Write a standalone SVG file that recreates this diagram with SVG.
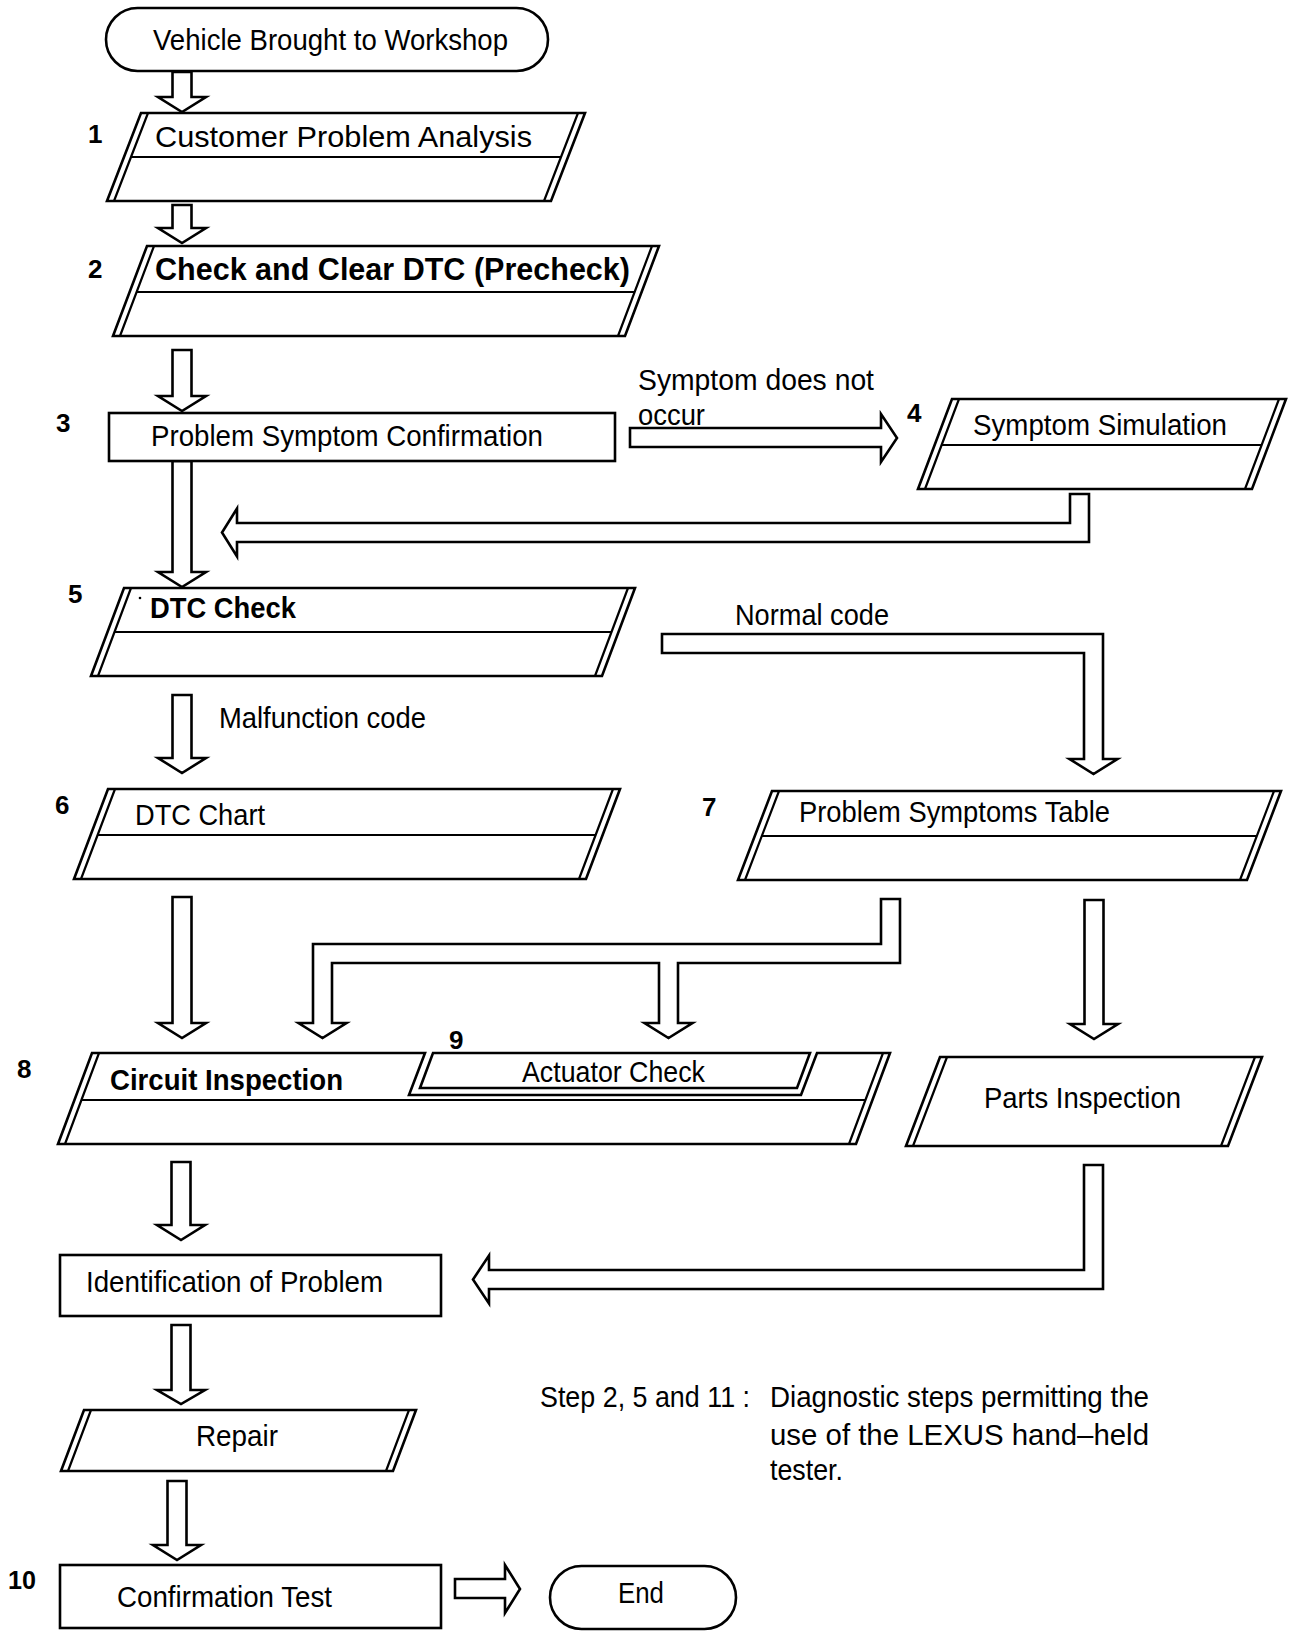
<svg xmlns="http://www.w3.org/2000/svg" width="1312" height="1636" viewBox="0 0 1312 1636">
<style>
.sh{fill:#fff;stroke:#000;stroke-width:2.6;stroke-linejoin:miter}
.ln{fill:none;stroke:#000;stroke-width:2.2}
.ar{fill:#fff;stroke:#000;stroke-width:2.6;stroke-linejoin:miter}
.t{font-family:"Liberation Sans",Arial,sans-serif;font-size:29px;fill:#000}
.b{font-family:"Liberation Sans",Arial,sans-serif;font-size:29px;font-weight:bold;fill:#000}
.n{font-family:"Liberation Sans",Arial,sans-serif;font-size:26px;font-weight:bold;fill:#000}
</style>
<rect x="0" y="0" width="1312" height="1636" fill="#fff"/>

<g id="connectors">
<path class="ar" d="M172.5,72 L191.5,72 L191.5,97 L206,97 L182,112 L158,97 L172.5,97 Z"/>
<path class="ar" d="M172.5,205 L191.5,205 L191.5,228 L206,228 L182,243 L158,228 L172.5,228 Z"/>
<path class="ar" d="M172.5,350 L191.5,350 L191.5,396 L206,396 L182,411 L158,396 L172.5,396 Z"/>
<path class="ar" d="M630,428 L881,428 L881,414 L897,438 L881,462 L881,447 L630,447 Z"/>
<path class="ar" d="M1070,494 L1089,494 L1089,542 L237,542 L237,556.5 L222,532.5 L237,508.5 L237,523 L1070,523 Z"/>
<path class="ar" d="M172.5,461 L191.5,461 L191.5,572 L206,572 L182,587 L158,572 L172.5,572 Z"/>
<path class="ar" d="M662,634 L1103,634 L1103,759 L1117.5,759 L1093.5,774 L1069.5,759 L1084,759 L1084,653 L662,653 Z"/>
<path class="ar" d="M172.5,695 L191.5,695 L191.5,758 L206,758 L182,773 L158,758 L172.5,758 Z"/>
<path class="ar" d="M172.5,897 L191.5,897 L191.5,1023 L206,1023 L182,1038 L158,1023 L172.5,1023 Z"/>
<path class="ar" d="M881,899 L900,899 L900,963 L678,963 L678,1023 L692.5,1023 L668.5,1038 L644.5,1023 L659,1023 L659,963 L332,963 L332,1023 L346.5,1023 L322.5,1038 L298.5,1023 L313,1023 L313,944 L881,944 Z"/>
<path class="ar" d="M1084.5,900 L1103.5,900 L1103.5,1024 L1118,1024 L1094,1039 L1070,1024 L1084.5,1024 Z"/>
<path class="ar" d="M171.5,1162 L190.5,1162 L190.5,1225 L205,1225 L181,1240 L157,1225 L171.5,1225 Z"/>
<path class="ar" d="M1084,1165 L1103,1165 L1103,1289 L489,1289 L489,1303.5 L473,1279.5 L489,1255.5 L489,1270 L1084,1270 Z"/>
<path class="ar" d="M171.5,1325 L190.5,1325 L190.5,1390 L205,1390 L181,1404 L157,1390 L171.5,1390 Z"/>
<path class="ar" d="M167.5,1481 L186.5,1481 L186.5,1545 L201,1545 L177,1560 L153,1545 L167.5,1545 Z"/>
<path class="ar" d="M455,1579 L505,1579 L505,1565 L520,1589 L505,1613 L505,1598 L455,1598 Z"/>
<text class="t" x="638" y="390" textLength="236" lengthAdjust="spacingAndGlyphs">Symptom does not</text>
<text class="t" x="638" y="425" textLength="67" lengthAdjust="spacingAndGlyphs">occur</text>
<text class="t" x="735" y="625" textLength="154" lengthAdjust="spacingAndGlyphs">Normal code</text>
<text class="t" x="219" y="728" textLength="207" lengthAdjust="spacingAndGlyphs">Malfunction code</text>
</g>

<g id="start">
<rect class="sh" x="106" y="8" width="442" height="63" rx="31.5"/>
<text class="t" x="153" y="50" textLength="355" lengthAdjust="spacingAndGlyphs">Vehicle Brought to Workshop</text>
</g>

<g id="n1">
<polygon class="sh" points="141,113 585,113 551,201 107,201"/>
<path class="ln" d="M148,113 L114,201 M578,113 L544,201 M131,157 L561,157"/>
<text class="n" x="88" y="143">1</text>
<text class="t" x="155" y="147" textLength="377" lengthAdjust="spacingAndGlyphs">Customer Problem Analysis</text>
</g>

<g id="n2">
<polygon class="sh" points="147,246 659,246 625,336 113,336"/>
<path class="ln" d="M154,246 L120,336 M652,246 L618,336 M137,292 L635,292"/>
<text class="n" x="88" y="278">2</text>
<text class="b" x="155" y="280" style="font-size:31px" textLength="475" lengthAdjust="spacingAndGlyphs">Check and Clear DTC (Precheck)</text>
</g>

<g id="n3">
<rect class="sh" x="109" y="413" width="506" height="48"/>
<text class="n" x="56" y="432">3</text>
<text class="t" x="151" y="446" textLength="392" lengthAdjust="spacingAndGlyphs">Problem Symptom Confirmation</text>
</g>

<g id="n4">
<polygon class="sh" points="952,399 1286,399 1252,489 918,489"/>
<path class="ln" d="M959,399 L925,489 M1279,399 L1245,489 M942,445 L1262,445"/>
<text class="n" x="907" y="422">4</text>
<text class="t" x="973" y="435" textLength="254" lengthAdjust="spacingAndGlyphs">Symptom Simulation</text>
</g>

<g id="n5">
<polygon class="sh" points="124,588 635,588 602,676 91,676"/>
<path class="ln" d="M131,588 L98,676 M628,588 L595,676 M114.5,632 L611.5,632"/>
<circle cx="140" cy="598" r="1.3" fill="#000"/>
<text class="n" x="68" y="603">5</text>
<text class="b" x="150" y="618" textLength="146" lengthAdjust="spacingAndGlyphs">DTC Check</text>
</g>

<g id="n6">
<polygon class="sh" points="108,789 620,789 586,879 74,879"/>
<path class="ln" d="M115,789 L81,879 M613,789 L579,879 M97.6,835 L595.6,835"/>
<text class="n" x="55" y="814">6</text>
<text class="t" x="135" y="825" textLength="130" lengthAdjust="spacingAndGlyphs">DTC Chart</text>
</g>

<g id="n7">
<polygon class="sh" points="772,791 1281,791 1247,880 738,880"/>
<path class="ln" d="M779,791 L745,880 M1274,791 L1240,880 M762,836 L1257,836"/>
<text class="n" x="702" y="816">7</text>
<text class="t" x="799" y="822" textLength="311" lengthAdjust="spacingAndGlyphs">Problem Symptoms Table</text>
</g>

<g id="n8">
<path class="sh" d="M425,1053 L92,1053 L58,1144 L856,1144 L890,1053 L817,1053 L801,1095 L409,1095 Z"/>
<path class="ln" d="M99,1053 L65,1144 M883,1053 L849,1144 M81,1100 L865,1100"/>
<text class="n" x="17" y="1078">8</text>
<text class="b" x="110" y="1090" textLength="233" lengthAdjust="spacingAndGlyphs">Circuit Inspection</text>
</g>

<g id="n9">
<polygon class="sh" points="433,1053 810,1053 797,1088 420,1088"/>
<text class="n" x="449" y="1049">9</text>
<text class="t" x="522" y="1082" textLength="183" lengthAdjust="spacingAndGlyphs">Actuator Check</text>
</g>

<g id="parts">
<polygon class="sh" points="940,1057 1262,1057 1228,1146 906,1146"/>
<path class="ln" d="M947,1057 L913,1146 M1255,1057 L1221,1146"/>
<text class="t" x="984" y="1108" textLength="197" lengthAdjust="spacingAndGlyphs">Parts Inspection</text>
</g>

<g id="ident">
<rect class="sh" x="60" y="1255" width="381" height="61"/>
<text class="t" x="86" y="1292" textLength="297" lengthAdjust="spacingAndGlyphs">Identification of Problem</text>
</g>

<g id="repair">
<polygon class="sh" points="84,1410 416,1410 393,1471 61,1471"/>
<path class="ln" d="M91,1410 L68,1471 M409,1410 L386,1471"/>
<text class="t" x="196" y="1446" textLength="82" lengthAdjust="spacingAndGlyphs">Repair</text>
</g>

<g id="n10">
<rect class="sh" x="60" y="1565" width="381" height="63"/>
<text class="n" x="8" y="1589" textLength="28" lengthAdjust="spacingAndGlyphs">10</text>
<text class="t" x="117" y="1607" textLength="215" lengthAdjust="spacingAndGlyphs">Confirmation Test</text>
</g>

<g id="end">
<rect class="sh" x="550" y="1566" width="186" height="63" rx="31.5"/>
<text class="t" x="618" y="1603" textLength="46" lengthAdjust="spacingAndGlyphs">End</text>
</g>

<g id="note">
<text class="t" x="540" y="1407" textLength="210" lengthAdjust="spacingAndGlyphs">Step 2, 5 and 11 :</text>
<text class="t" x="770" y="1407" textLength="379" lengthAdjust="spacingAndGlyphs">Diagnostic steps permitting the</text>
<text class="t" x="770" y="1445" textLength="379" lengthAdjust="spacingAndGlyphs">use of the LEXUS hand–held</text>
<text class="t" x="770" y="1480" textLength="73" lengthAdjust="spacingAndGlyphs">tester.</text>
</g>
</svg>
